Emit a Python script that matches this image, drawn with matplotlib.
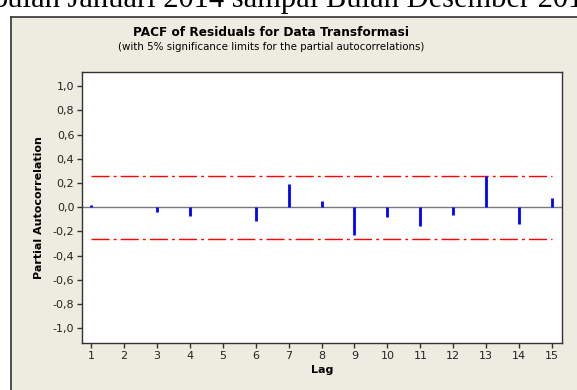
import matplotlib
matplotlib.use("Agg")
import matplotlib.pyplot as plt
from matplotlib.patches import Rectangle
from matplotlib.lines import Line2D

lags = [1, 2, 3, 4, 5, 6, 7, 8, 9, 10, 11, 12, 13, 14, 15]
pacf = [0.022, 0.005, -0.039, -0.072, 0.005, -0.113, 0.19, 0.055, -0.231,
        -0.08, -0.155, -0.064, 0.256, -0.135, 0.08]
limit = 0.26
yticks = [-1.0, -0.8, -0.6, -0.4, -0.2, 0.0, 0.2, 0.4, 0.6, 0.8, 1.0]
ytick_labels = [f"{v:.1f}".replace(".", ",") for v in yticks]

W, H = 577, 390
fig = plt.figure(figsize=(W / 100, H / 100), dpi=100)
fig.patch.set_facecolor("white")

bg = "#EEEBE1"
# beige frame
fx0, fy_top = 10.5, 16.5
fig.patches.append(Rectangle((fx0 / W, 0), 1 - fx0 / W, 1 - fy_top / H,
                             transform=fig.transFigure, facecolor=bg,
                             edgecolor="none", zorder=-5))
fig.lines.append(Line2D([fx0 / W, fx0 / W], [0, 1 - fy_top / H], transform=fig.transFigure,
                        color="#333333", lw=1.2, zorder=-4))
fig.lines.append(Line2D([fx0 / W, 1], [1 - fy_top / H, 1 - fy_top / H], transform=fig.transFigure,
                        color="#333333", lw=1.2, zorder=-4))

# cut-off document text at top
fig.text(-8 / W, 1 - 6.5 / H, "bulan Januari 2014 sampai Bulan Desember 2014",
         family="Liberation Serif", fontsize=22, ha="left", va="baseline", color="black")

ax = fig.add_axes([82 / W, 1 - 343 / H, (562 - 82) / W, (343 - 72) / H])
ax.set_zorder(5)
ax.set_facecolor("white")
ax.set_xlim(0.727, 15.3)
ax.set_ylim(-1.12, 1.116)

ax.axhline(0, color="#7a7a7a", lw=1.0, zorder=1)
ax.hlines([limit, -limit], lags[0], lags[-1], colors="red", lw=1.0,
          linestyles=[(0, (13, 3, 2, 3))], zorder=2)
ax.vlines(lags, 0, pacf, colors="#0000FF", lw=2.0, zorder=3)

ax.set_yticks(yticks)
ax.set_yticklabels(ytick_labels)
ax.set_xticks(lags)
ax.set_xticklabels([str(l) for l in lags])
ax.tick_params(axis="both", direction="out", length=3.5, width=1, color="#333333",
               labelsize=8, labelcolor="#222222", pad=2)
for s in ax.spines.values():
    s.set_color("#333333")
    s.set_linewidth(1.0)

ax.set_ylabel("Partial Autocorrelation", fontsize=8, fontweight="bold", labelpad=6)
ax.set_xlabel("Lag", fontsize=8, fontweight="bold", labelpad=3)

fig.text(271 / W, 1 - 32 / H, "PACF of Residuals for Data Transformasi",
         fontsize=8.7, fontweight="bold", ha="center", va="center", zorder=6)
fig.text(271 / W, 1 - 46.5 / H, "(with 5% significance limits for the partial autocorrelations)",
         fontsize=7.35, ha="center", va="center", zorder=6)

fig.savefig("out.png", dpi=100, facecolor=fig.get_facecolor())
